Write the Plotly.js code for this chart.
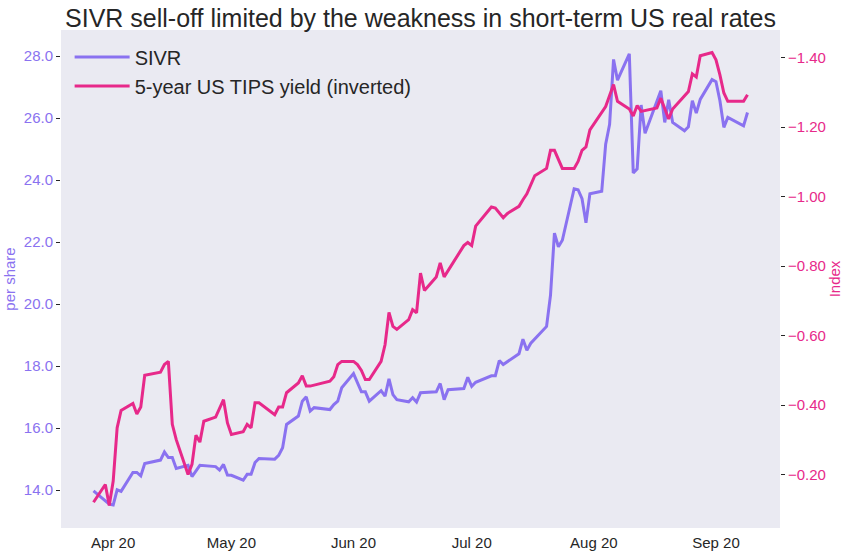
<!DOCTYPE html>
<html>
<head>
<meta charset="utf-8">
<script src="https://cdn.plot.ly/plotly-3.0.1.min.js"></script>
<style>
  html, body { margin: 0; padding: 0; background: #fff; }
  #chart { width: 845px; height: 557px; }
</style>
</head>
<body>
<div id="chart"></div>
<script>
// SIVR close, per share
var sivrDates = [
    '2020-03-27', '2020-03-31', '2020-04-01', '2020-04-02', '2020-04-03', '2020-04-06', '2020-04-07',
    '2020-04-08', '2020-04-09', '2020-04-13', '2020-04-14', '2020-04-15', '2020-04-16', '2020-04-17',
    '2020-04-20', '2020-04-21', '2020-04-23', '2020-04-27', '2020-04-28', '2020-04-29', '2020-04-30',
    '2020-05-01', '2020-05-04', '2020-05-05', '2020-05-06', '2020-05-07', '2020-05-08', '2020-05-12',
    '2020-05-13', '2020-05-14', '2020-05-15', '2020-05-18', '2020-05-19', '2020-05-20', '2020-05-21',
    '2020-05-22', '2020-05-26', '2020-05-27', '2020-05-28', '2020-05-29', '2020-06-01', '2020-06-02',
    '2020-06-03', '2020-06-04', '2020-06-05', '2020-06-08', '2020-06-09', '2020-06-10', '2020-06-11',
    '2020-06-12', '2020-06-15', '2020-06-16', '2020-06-17', '2020-06-18', '2020-06-22', '2020-06-23',
    '2020-06-24', '2020-06-25', '2020-06-29', '2020-06-30', '2020-07-01', '2020-07-02', '2020-07-06',
    '2020-07-07', '2020-07-08', '2020-07-09', '2020-07-13', '2020-07-14', '2020-07-15', '2020-07-16',
    '2020-07-20', '2020-07-21', '2020-07-22', '2020-07-23', '2020-07-24', '2020-07-27', '2020-07-28',
    '2020-07-29', '2020-07-30', '2020-07-31', '2020-08-03', '2020-08-04', '2020-08-05', '2020-08-06',
    '2020-08-07', '2020-08-10', '2020-08-11', '2020-08-12', '2020-08-13', '2020-08-14', '2020-08-18',
    '2020-08-19', '2020-08-20', '2020-08-21', '2020-08-24', '2020-08-25', '2020-08-26', '2020-08-27',
    '2020-08-28', '2020-08-31', '2020-09-01', '2020-09-02', '2020-09-03', '2020-09-04', '2020-09-08',
    '2020-09-09'
];
var sivrValues = [
    13.98, 13.55, 13.52, 14.01, 13.96, 14.57, 14.57,
    14.46, 14.86, 14.97, 15.23, 15.05, 15.05, 14.70,
    14.80, 14.44, 14.80, 14.76, 14.65, 14.83, 14.49,
    14.48, 14.32, 14.51, 14.51, 14.89, 15.02, 15.00,
    15.12, 15.37, 16.12, 16.39, 16.87, 17.01, 16.55,
    16.66, 16.60, 16.76, 16.87, 17.30, 17.76, 17.46,
    17.17, 17.17, 16.87, 17.21, 17.03, 17.59, 17.08,
    16.92, 16.85, 16.98, 16.84, 17.14, 17.17, 17.44,
    16.92, 17.24, 17.28, 17.64, 17.35, 17.48, 17.69,
    17.69, 18.18, 18.05, 18.40, 18.87, 18.51, 18.74,
    19.28, 20.29, 22.29, 21.85, 22.06, 23.72, 23.69,
    23.40, 22.62, 23.56, 23.64, 25.16, 25.80, 27.89,
    27.22, 28.07, 24.23, 24.36, 26.42, 25.51, 26.88,
    25.86, 26.59, 25.86, 25.59, 25.72, 26.56, 26.16,
    26.60, 27.24, 27.17, 26.56, 25.70, 26.02, 25.75,
    26.18
];

// 5-year TIPS yield, %, drawn on an inverted axis
var tipsDates = [
    '2020-03-27', '2020-03-30', '2020-03-31', '2020-04-01', '2020-04-02', '2020-04-03', '2020-04-06',
    '2020-04-07', '2020-04-08', '2020-04-09', '2020-04-13', '2020-04-14', '2020-04-15', '2020-04-16',
    '2020-04-17', '2020-04-20', '2020-04-21', '2020-04-22', '2020-04-23', '2020-04-24', '2020-04-27',
    '2020-04-29', '2020-04-30', '2020-05-01', '2020-05-04', '2020-05-05', '2020-05-06', '2020-05-07',
    '2020-05-08', '2020-05-12', '2020-05-13', '2020-05-14', '2020-05-15', '2020-05-18', '2020-05-19',
    '2020-05-20', '2020-05-21', '2020-05-26', '2020-05-27', '2020-05-28', '2020-05-29', '2020-06-01',
    '2020-06-02', '2020-06-03', '2020-06-04', '2020-06-05', '2020-06-08', '2020-06-09', '2020-06-10',
    '2020-06-11', '2020-06-12', '2020-06-15', '2020-06-16', '2020-06-17', '2020-06-18', '2020-06-19',
    '2020-06-22', '2020-06-23', '2020-06-24', '2020-06-29', '2020-06-30', '2020-07-01', '2020-07-02',
    '2020-07-06', '2020-07-07', '2020-07-09', '2020-07-10', '2020-07-13', '2020-07-14', '2020-07-15',
    '2020-07-17', '2020-07-20', '2020-07-21', '2020-07-22', '2020-07-24', '2020-07-27', '2020-07-28',
    '2020-07-29', '2020-07-30', '2020-07-31', '2020-08-04', '2020-08-06', '2020-08-07', '2020-08-10',
    '2020-08-11', '2020-08-12', '2020-08-13', '2020-08-17', '2020-08-18', '2020-08-20', '2020-08-21',
    '2020-08-25', '2020-08-26', '2020-08-27', '2020-08-28', '2020-08-31', '2020-09-01', '2020-09-02',
    '2020-09-03', '2020-09-04', '2020-09-08', '2020-09-09'
];
var tipsValues = [
    -0.121, -0.172, -0.112, -0.182, -0.335, -0.385, -0.405,
    -0.375, -0.395, -0.486, -0.495, -0.517, -0.526, -0.345,
    -0.301, -0.201, -0.230, -0.314, -0.294, -0.354, -0.366,
    -0.416, -0.349, -0.316, -0.324, -0.345, -0.335, -0.407,
    -0.407, -0.373, -0.395, -0.395, -0.436, -0.464, -0.485,
    -0.455, -0.455, -0.469, -0.482, -0.517, -0.526, -0.526,
    -0.517, -0.500, -0.474, -0.474, -0.526, -0.574, -0.667,
    -0.627, -0.618, -0.646, -0.675, -0.666, -0.780, -0.730,
    -0.769, -0.809, -0.769, -0.859, -0.868, -0.859, -0.915,
    -0.970, -0.967, -0.939, -0.951, -0.972, -0.991, -1.008,
    -1.060, -1.081, -1.133, -1.133, -1.081, -1.081, -1.101,
    -1.133, -1.143, -1.192, -1.259, -1.322, -1.274, -1.252,
    -1.232, -1.262, -1.245, -1.255, -1.283, -1.223, -1.252,
    -1.302, -1.353, -1.344, -1.405, -1.414, -1.393, -1.350,
    -1.298, -1.274, -1.274, -1.293
];

var sivrColor = '#8a72f0';
var tipsColor = '#e7298a';
var ink = '#262626';
var font = 'Liberation Sans, Arial, sans-serif';

var traces = [{
    x: sivrDates,
    y: sivrValues,
    name: 'SIVR',
    type: 'scatter',
    mode: 'lines',
    line: {color: sivrColor, width: 3},
    yaxis: 'y'
}, {
    x: tipsDates,
    y: tipsValues,
    name: '5-year US TIPS yield (inverted)',
    type: 'scatter',
    mode: 'lines',
    line: {color: tipsColor, width: 3},
    yaxis: 'y2'
}];

var layout = {
    width: 845,
    height: 557,
    margin: {l: 61, r: 65, t: 30, b: 29, pad: 0},
    paper_bgcolor: '#ffffff',
    plot_bgcolor: '#eaeaf2',
    font: {family: font, color: ink},
    title: {
        text: 'SIVR sell-off limited by the weakness in short-term US real rates',
        font: {family: font, size: 25, color: ink},
        x: 0.5, xanchor: 'center',
        xref: 'paper',
        yref: 'container',
        y: 0.983, yanchor: 'top'
    },
    showlegend: true,
    legend: {
        x: 0.012, y: 0.985, xanchor: 'left', yanchor: 'top',
        bgcolor: 'rgba(0,0,0,0)',
        font: {family: font, size: 20, color: ink},
        itemwidth: 55,
        tracegroupgap: 0
    },
    xaxis: {
        type: 'date',
        range: ['2020-03-18 18:00', '2020-09-17 06:00'],
        tick0: '2020-04-01',
        dtick: 'M1',
        tickformat: '%b %y',
        showgrid: false,
        zeroline: false,
        showline: false,
        ticks: '',
        ticklabelstandoff: 4,
        tickfont: {family: font, size: 15, color: ink}
    },
    yaxis: {
        range: [12.78, 28.84],
        tickvals: [14, 16, 18, 20, 22, 24, 26, 28],
        tickformat: '.1f',
        showgrid: false,
        zeroline: false,
        showline: false,
        ticks: 'outside',
        ticklen: 4,
        tickwidth: 1,
        tickcolor: ink,
        tickfont: {family: font, size: 15, color: sivrColor},
        title: {text: 'per share', font: {family: font, size: 15, color: sivrColor}, standoff: 4}
    },
    yaxis2: {
        overlaying: 'y',
        side: 'right',
        range: [-0.047, -1.479],
        tickvals: [-0.2, -0.4, -0.6, -0.8, -1.0, -1.2, -1.4],
        tickformat: '.2f',
        showgrid: false,
        zeroline: false,
        showline: false,
        ticks: 'outside',
        ticklen: 4,
        tickwidth: 1,
        tickcolor: ink,
        tickfont: {family: font, size: 15, color: tipsColor},
        title: {text: 'Index', font: {family: font, size: 15, color: tipsColor}, standoff: 0}
    }
};

Plotly.newPlot('chart', traces, layout, {displayModeBar: false, staticPlot: true});
</script>
</body>
</html>
